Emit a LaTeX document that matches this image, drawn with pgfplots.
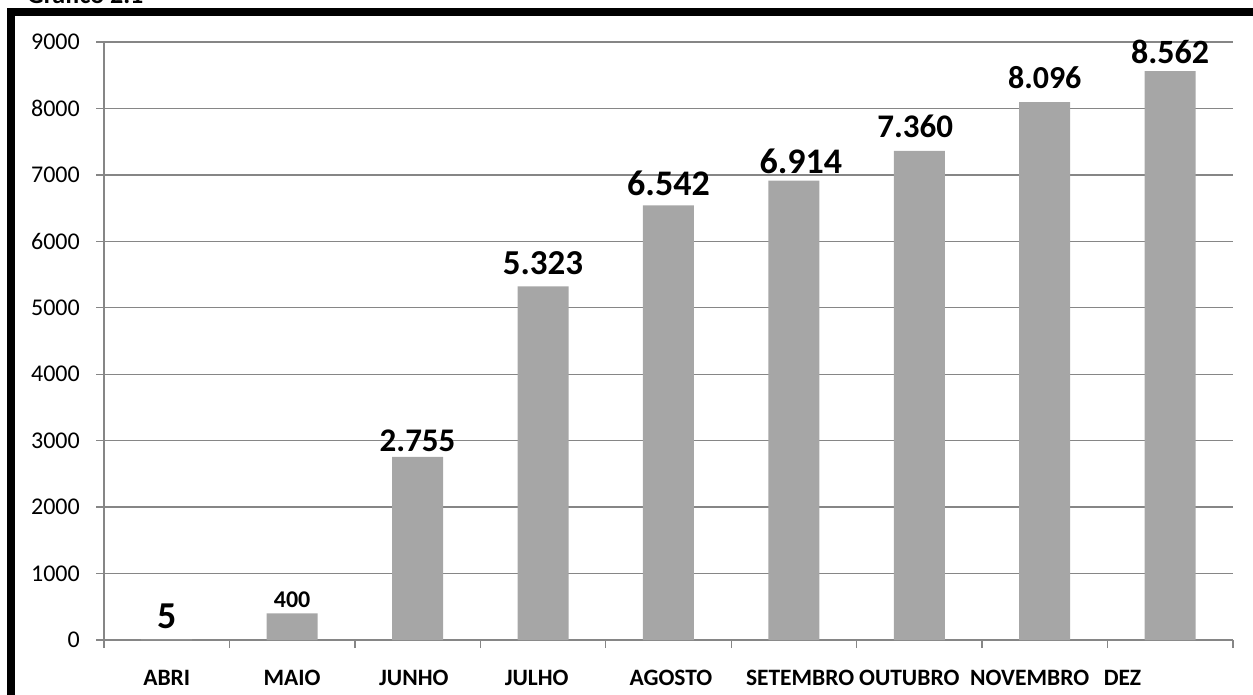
\documentclass[border=0pt]{standalone}
\usepackage{pgfplots}
\pgfplotsset{compat=1.18}
\usepackage{fontspec}
\setmainfont{Carlito}
\definecolor{bargray}{RGB}{166,166,166}
\definecolor{gridgray}{RGB}{134,134,134}
\pgfplotsset{
  lbl/.style n args={3}{draw=none, mark=none, forget plot,
    point meta=explicit symbolic, nodes near coords,
    nodes near coords style={font=\bfseries\fontsize{#1bp}{#1bp}\selectfont, inner sep=0pt, anchor=south, yshift=#2bp, xshift=#3bp, text=black}},
}
\begin{document}
\begin{tikzpicture}
\useasboundingbox (0,0) rectangle (1253bp,-695bp);
\node[anchor=base west, inner sep=0pt, font=\bfseries\fontsize{26bp}{30bp}\selectfont] at (27bp,-3bp) {Gráfico 2.1};
\draw[line width=8bp, line join=miter] (11bp,-720bp) -- (11bp,-11.5bp) -- (1290bp,-11.5bp);
\begin{axis}[
  at={(104bp,-640bp)}, anchor=south west,
  scale only axis, width=1129bp, height=598bp,
  xmin=-0.5, xmax=8.5, ymin=0, ymax=9000,
  axis lines=left, axis line style={gridgray, line width=1.3bp, -},
  ytick={0,1000,...,9000},
  ymajorgrids, major grid style={gridgray, line width=1.3bp},
  y tick label style={font=\fontsize{24bp}{28bp}\selectfont, /pgf/number format/assume math mode=true, /pgf/number format/1000 sep={}},
  yticklabel style={anchor=east, inner sep=0pt, xshift=-16bp},
  xtick={0,1,1.97,2.95,4.02,5.05,5.92,6.88,7.62},
  xticklabels={ABRI,MAIO,JUNHO,JULHO,AGOSTO,SETEMBRO,OUTUBRO,NOVEMBRO,DEZ},
  x tick label style={font=\bfseries\fontsize{23.5bp}{27bp}\selectfont, anchor=base, inner sep=0pt, yshift=-37bp},
  minor xtick={-0.5,0.5,...,8.5},
  tick align=outside,
  major x tick style={draw=none},
  minor tick length=8bp, major tick length=8bp,
  tick style={gridgray, line width=1.3bp},
  clip=false,
]
\addplot[ybar, bar width=51bp, fill=bargray, draw=none] coordinates {
  (0,5) (1,400) (2,2755) (3,5323) (4,6542) (5,6914) (6,7360) (7,8096) (8,8562)};
\addplot[lbl={38}{11}{0}] coordinates {(0,5) [5]};
\addplot[lbl={24}{6}{0}] coordinates {(1,400) [400]};
\addplot[lbl={33}{5}{0}] coordinates {(2,2755) [2.755]};
\addplot[lbl={35}{11}{0}] coordinates {(3,5323) [5.323]};
\addplot[lbl={36}{9}{0}] coordinates {(4,6542) [6.542]};
\addplot[lbl={36}{7}{7}] coordinates {(5,6914) [6.914]};
\addplot[lbl={33}{13}{-4}] coordinates {(6,7360) [7.360]};
\addplot[lbl={32}{13}{0}] coordinates {(7,8096) [8.096]};
\addplot[lbl={34}{7}{0}] coordinates {(8,8562) [8.562]};
\end{axis}
\end{tikzpicture}
\end{document}
